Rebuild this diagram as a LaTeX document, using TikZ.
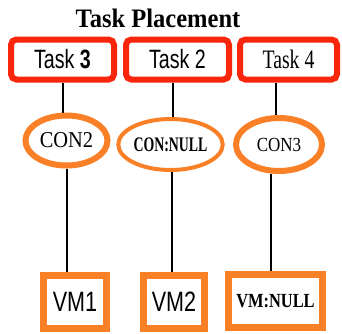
\documentclass[tikz,border=0pt]{standalone}
\usepackage{graphicx}
\usepackage{fontspec}
\setmainfont{Liberation Serif}
\setsansfont{Liberation Sans}
\usetikzlibrary{shapes.geometric}
\definecolor{taskred}{RGB}{250,38,12}
\definecolor{conorange}{RGB}{250,128,40}

% narrow text: #1 = horizontal scale, #2 = font size
\newcommand{\narrowtext}[3]{\scalebox{#1}[1]{\fontsize{#2}{#2}\selectfont #3}}

\tikzset{every picture/.style={line width=0.75pt}}
\tikzset{
  taskbox/.style={draw=taskred, line width=4.5pt, rounded corners=4pt, fill=white, minimum height=30pt, inner sep=0pt},
  conoval/.style={draw=conorange, ellipse, line width=4pt, fill=white, inner sep=0pt},
  vmbox/.style={draw=conorange, line width=5.25pt, fill=white, minimum height=39.75pt, inner sep=0pt},
  link/.style={line width=1.5pt}
}

\begin{document}
\begin{tikzpicture}[x=0.75pt,y=0.75pt,yscale=-1,xscale=1]
\useasboundingbox (0,0) rectangle (342,333);

% Text Node
\draw (158,18) node (title) {\narrowtext{0.92}{20pt}{\bfseries Task Placement}};

%Shape: Rectangle [task boxes]
\node [taskbox, minimum width=77.25pt] (task3) at (62.5,59.5) {\sffamily\narrowtext{0.74}{19.9pt}{Task \textbf{3}}};
\node [taskbox, minimum width=77.25pt] (task2) at (177.5,59.5) {\sffamily\narrowtext{0.74}{19.9pt}{Task 2}};
\node [taskbox, minimum width=72.75pt] (task4) at (288.5,59.5) {\narrowtext{0.74}{20pt}{Task 4}};

%Shape: Ellipse [containers]
\node [conoval, line width=4.5pt, minimum width=61.5pt, minimum height=37.5pt] (con2) at (66.5,140.5) {\narrowtext{0.9}{17pt}{CON2}};
\node [conoval, line width=3pt, minimum width=66.75pt, minimum height=38.25pt] (connull) at (170.5,144.5) {\narrowtext{0.67}{15.5pt}{\bfseries CON:NULL}};
\node [conoval, line width=4.5pt, minimum width=64.5pt, minimum height=39.75pt] (con3) at (279,144.5) {\narrowtext{0.85}{15pt}{CON3}};

%Shape: Rectangle [vms]
\node [vmbox, minimum width=47.25pt] (vm1) at (75,302) {\sffamily\narrowtext{0.77}{21pt}{VM1}};
\node [vmbox, minimum width=45.75pt] (vm2) at (174,302) {\sffamily\narrowtext{0.77}{21pt}{VM2}};
\node [vmbox, minimum width=70.5pt] (vmnull) at (275.5,301) {\narrowtext{0.82}{15pt}{\bfseries VM:NULL}};

%Straight Lines [task to container]
\draw [link] ([xshift=-2.5pt]con2.north) -- ([xshift=-2.5pt]con2.north |- task3.south);
\draw [link] ([xshift=1.5pt]connull.north) -- ([xshift=1.5pt]connull.north |- task2.south);
\draw [link] ([xshift=-2pt]con3.north) -- ([xshift=-2pt]con3.north |- task4.south);
%Straight Lines [container to vm]
\draw [link] (con2.south) -- (con2.south |- vm1.north);
\draw [link] ([xshift=1pt]connull.south) -- ([xshift=1pt]connull.south |- vm2.north);
\draw [link] ([xshift=-6pt]con3.south) -- ([xshift=-6pt]con3.south |- vmnull.north);

\end{tikzpicture}
\end{document}
